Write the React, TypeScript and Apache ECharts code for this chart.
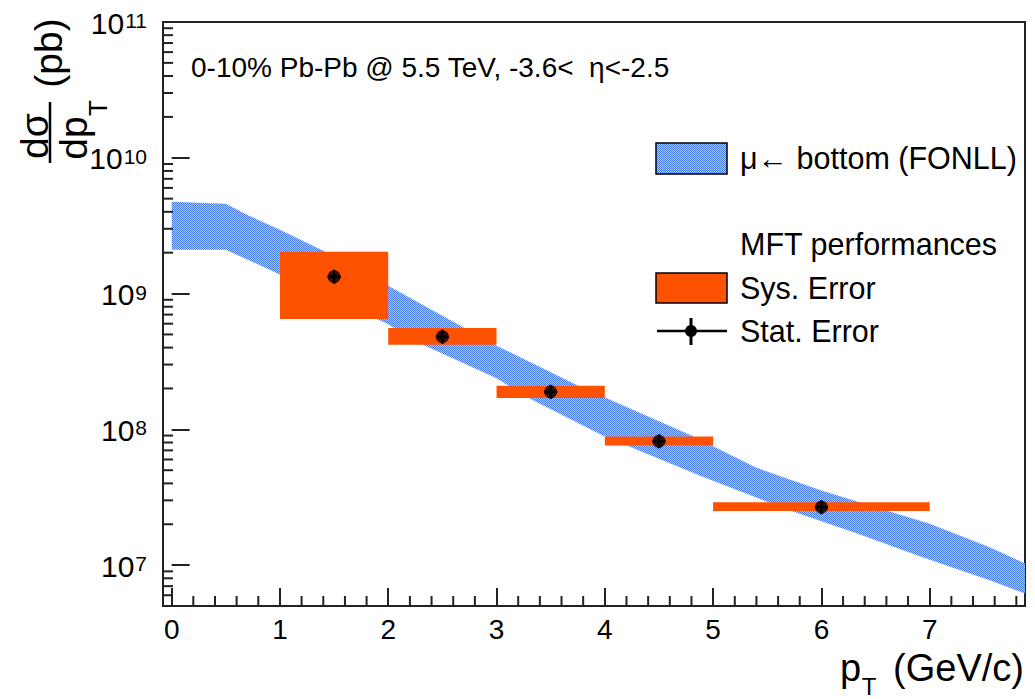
import React, { useEffect, useRef } from "react";
import * as echarts from "echarts";

const FONT = "'Liberation Sans', Arial, Helvetica, sans-serif";
const X_MIN = -0.08;
const X_MAX = 7.88;
const Y_MIN = 5e6;
const Y_MAX = 1e11;

// FONLL band (mu <- bottom), upper and lower edges
const bandUpperX = [0, 0.5, 0.72, 1.0, 1.4, 2.0, 3.0, 3.75, 4.8, 5.4, 6.0, 7.0, 7.56, 7.88];
const bandUpperY = [4.74e9, 4.58e9, 3.73e9, 2.95e9, 2.07e9, 1.14e9, 4.13e8, 2.1e8, 9.0e7, 5.22e7, 3.54e7, 2.02e7, 1.35e7, 1.03e7];
const bandLowerX = [0, 0.5, 0.97, 1.99, 2.29, 2.99, 3.31, 3.98, 4.88, 5.71, 6.33, 6.94, 7.56, 7.88];
const bandLowerY = [2.1e9, 2.1e9, 1.42e9, 6.0e8, 4.3e8, 2.4e8, 1.68e8, 9.0e7, 4.56e7, 2.52e7, 1.71e7, 1.14e7, 7.7e6, 6.18e6];

// MFT performances: systematic error boxes
const sysXLow = [1, 2, 3, 4, 5];
const sysXHigh = [2, 3, 4, 5, 7];
const sysLow = [6.49e8, 4.2e8, 1.7e8, 7.59e7, 2.5e7];
const sysHigh = [2.03e9, 5.57e8, 2.09e8, 8.84e7, 2.9e7];

// points with statistical errors
const ptX = [1.5, 2.5, 3.5, 4.5, 6.0];
const ptY = [1.33e9, 4.81e8, 1.89e8, 8.17e7, 2.67e7];
const statLow = [1.18e9, 4.27e8, 1.68e8, 7.25e7, 2.37e7];
const statHigh = [1.5e9, 5.42e8, 2.13e8, 9.2e7, 3.01e7];
const statXErr = [0.06, 0.06, 0.06, 0.06, 0.06];

const xMajorStep = 1;
const xMinorTicks: number[] = [];
for (let i = 1; i < 40; i++) if (i % 5 !== 0) xMinorTicks.push(Math.round(i * 2) / 10);
const yMinorTicks: number[] = [];
for (let d = 6; d <= 10; d++) {
  for (let m = 2; m <= 9; m++) {
    const v = m * Math.pow(10, d);
    if (v > Y_MIN && v < Y_MAX) yMinorTicks.push(v);
  }
}

const ORANGE = "#ff5200";

function makePattern() {
  const c = document.createElement("canvas");
  c.width = 2;
  c.height = 2;
  const ctx = c.getContext("2d")!;
  ctx.fillStyle = "#b4cbfa";
  ctx.fillRect(0, 0, 2, 2);
  ctx.fillStyle = "#4478f2";
  ctx.fillRect(0, 0, 1, 1);
  ctx.fillRect(1, 1, 1, 1);
  return { image: c, repeat: "repeat" } as any;
}

export default function App() {
  const ref = useRef<HTMLDivElement>(null);
  useEffect(() => {
    if (!ref.current) return;
    const chart = echarts.init(ref.current, undefined, { renderer: "svg" });
    const pattern = makePattern();
    const txt = (text: string, x: number, y: number, size: number, extra: any = {}) => ({
      type: "text",
      x,
      y,
      rotation: extra.rotation || 0,
      style: {
        text,
        fontSize: size,
        fontFamily: FONT,
        fill: "#000",
        align: extra.align || "left",
        verticalAlign: "middle",
      },
    });
    const LEG = 30.5;
    const option: any = {
      animation: false,
      backgroundColor: "#fff",
      grid: {
        left: 163,
        right: 10,
        top: 21,
        bottom: 93,
        show: true,
        borderColor: "#222",
        borderWidth: 2,
        backgroundColor: "transparent",
      },
      xAxis: {
        type: "value",
        min: X_MIN,
        max: X_MAX,
        splitNumber: 8,
        minInterval: xMajorStep,
        maxInterval: xMajorStep,
        axisLine: { show: false },
        splitLine: { show: false },
        axisTick: { show: true, inside: true, length: 18, lineStyle: { color: "#222", width: 2 } },
        axisLabel: {
          showMinLabel: false,
          showMaxLabel: false,
          fontSize: 28,
          fontFamily: FONT,
          color: "#000",
          margin: 9,
        },
      },
      yAxis: {
        type: "log",
        logBase: 10,
        min: Y_MIN,
        max: Y_MAX,
        axisLine: { show: false },
        splitLine: { show: false },
        axisTick: { show: true, inside: true, length: 18, lineStyle: { color: "#222", width: 2 } },
        axisLabel: {
          margin: 16,
          showMinLabel: false,
          formatter: (v: number) => {
            const e = Math.log10(v);
            const r = Math.round(e);
            return Math.abs(e - r) < 1e-6 ? `{b|10}{s|${r}}` : "";
          },
          rich: {
            b: { fontSize: 30, fontFamily: FONT, color: "#000", lineHeight: 32, padding: [8, 0, 0, 0], verticalAlign: "bottom" },
            s: { fontSize: 21, fontFamily: FONT, color: "#000", lineHeight: 21, padding: [4, 0, 0, 1], verticalAlign: "top" },
          },
        },
      },
      series: [
        {
          name: "band",
          type: "custom",
          coordinateSystem: "cartesian2d",
          clip: true,
          z: 1,
          data: [[0, 1e9]],
          renderItem: (_p: any, api: any) => {
            const pts: number[][] = [];
            for (let i = 0; i < bandUpperX.length; i++) pts.push(api.coord([bandUpperX[i], bandUpperY[i]]));
            for (let i = bandLowerX.length - 1; i >= 0; i--) pts.push(api.coord([bandLowerX[i], bandLowerY[i]]));
            return { type: "polygon", shape: { points: pts }, style: { fill: pattern } };
          },
        },
        {
          name: "sys",
          type: "custom",
          coordinateSystem: "cartesian2d",
          z: 2,
          data: sysXLow.map((x0, i) => [x0, sysXHigh[i], sysLow[i], sysHigh[i]]),
          encode: { x: [0, 1], y: [2, 3] },
          renderItem: (_p: any, api: any) => {
            const a = api.coord([api.value(0), api.value(3)]);
            const b = api.coord([api.value(1), api.value(2)]);
            return {
              type: "rect",
              shape: { x: a[0], y: a[1], width: b[0] - a[0], height: b[1] - a[1] },
              style: { fill: ORANGE },
            };
          },
        },
        {
          name: "stat",
          type: "custom",
          coordinateSystem: "cartesian2d",
          z: 3,
          data: ptX.map((x, i) => [x, ptY[i], statLow[i], statHigh[i], statXErr[i]]),
          encode: { x: 0, y: [1, 2, 3] },
          renderItem: (_p: any, api: any) => {
            const x = api.value(0);
            const y = api.value(1);
            const lo = api.coord([x, api.value(2)]);
            const hi = api.coord([x, api.value(3)]);
            const l = api.coord([x - api.value(4), y]);
            const r = api.coord([x + api.value(4), y]);
            return {
              type: "group",
              children: [
                { type: "line", shape: { x1: lo[0], y1: lo[1], x2: hi[0], y2: hi[1] }, style: { stroke: "#000", lineWidth: 2.5 } },
                { type: "line", shape: { x1: l[0], y1: l[1], x2: r[0], y2: r[1] }, style: { stroke: "#000", lineWidth: 2.5 } },
              ],
            };
          },
        },
        {
          name: "points",
          type: "scatter",
          z: 4,
          symbol: "circle",
          symbolSize: 13,
          itemStyle: { color: "#000" },
          data: ptX.map((x, i) => [x, ptY[i]]),
        },
        {
          name: "yMinor",
          type: "custom",
          coordinateSystem: "cartesian2d",
          clip: false,
          z: 5,
          data: yMinorTicks.map((v) => [X_MIN, v]),
          renderItem: (_p: any, api: any) => {
            const p = api.coord([api.value(0), api.value(1)]);
            return { type: "line", shape: { x1: p[0], y1: p[1], x2: p[0] + 10, y2: p[1] }, style: { stroke: "#222", lineWidth: 2 } };
          },
        },
        {
          name: "xMinor",
          type: "custom",
          coordinateSystem: "cartesian2d",
          clip: false,
          z: 5,
          data: xMinorTicks.map((v) => [v, Y_MIN]),
          renderItem: (_p: any, api: any) => {
            const p = api.coord([api.value(0), api.value(1)]);
            return { type: "line", shape: { x1: p[0], y1: p[1], x2: p[0], y2: p[1] - 10 }, style: { stroke: "#222", lineWidth: 2 } };
          },
        },
      ],
      graphic: [
        txt("0-10% Pb-Pb @ 5.5 TeV, -3.6< \u00a0η<-2.5", 191, 67, 28),
        // legend
        { type: "rect", shape: { x: 656, y: 143, width: 71, height: 31 }, style: { fill: pattern, stroke: "#000", lineWidth: 1.5 } },
        txt("μ← bottom (FONLL)", 740, 158, LEG),
        txt("MFT performances", 740, 244, LEG),
        { type: "rect", shape: { x: 656, y: 273, width: 71, height: 30 }, style: { fill: ORANGE, stroke: "#000", lineWidth: 1.5 } },
        txt("Sys. Error", 740, 288, LEG),
        { type: "line", shape: { x1: 657, y1: 331, x2: 727, y2: 331 }, style: { stroke: "#000", lineWidth: 2.5 } },
        { type: "line", shape: { x1: 691, y1: 318, x2: 691, y2: 345 }, style: { stroke: "#000", lineWidth: 3 } },
        { type: "circle", shape: { cx: 691, cy: 331, r: 6 }, style: { fill: "#000" } },
        txt("Stat. Error", 740, 331, LEG),
        // x-axis title
        txt("p", 840, 668, 38),
        txt("T", 869, 686, 24, { align: "center" }),
        txt("(GeV/c)", 1024, 668, 38, { align: "right" }),
        // y-axis title (rotated)
        txt("dσ", 34, 136, 39, { rotation: Math.PI / 2, align: "center" }),
        { type: "line", shape: { x1: 50, y1: 102, x2: 50, y2: 163 }, style: { stroke: "#000", lineWidth: 2.5 } },
        txt("dp", 73, 138, 39, { rotation: Math.PI / 2, align: "center" }),
        txt("T", 98, 108, 26, { rotation: Math.PI / 2, align: "center" }),
        txt("(pb)", 48, 53, 39, { rotation: Math.PI / 2, align: "center" }),
      ],
    };
    chart.setOption(option);
    return () => chart.dispose();
  }, []);
  return (
    <div
      ref={ref}
      style={{ position: "fixed", left: 0, top: 0, width: 1035, height: 699, background: "#fff" }}
    />
  );
}
